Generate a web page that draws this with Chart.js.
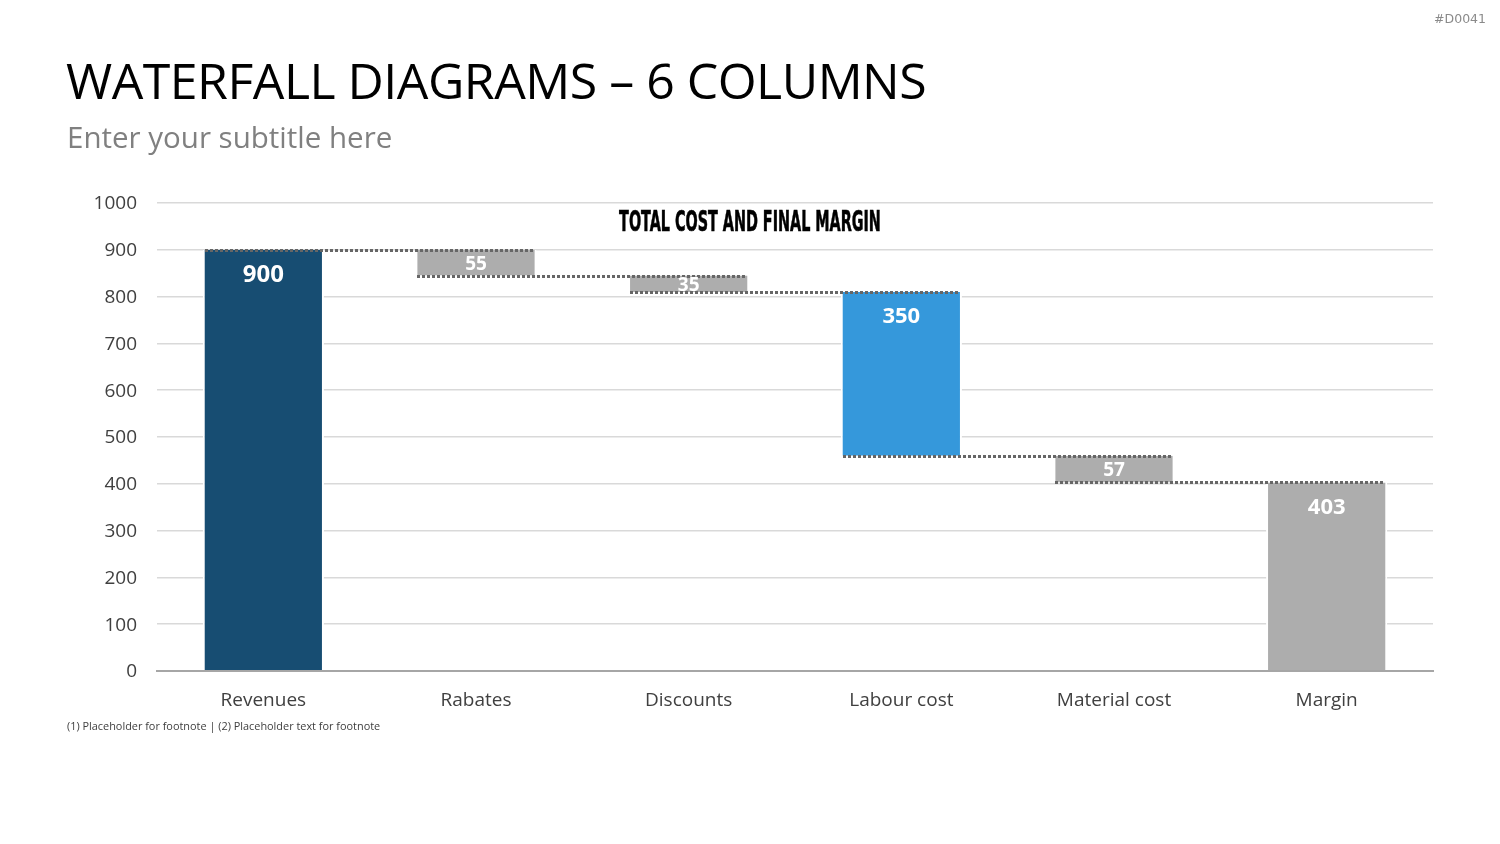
<!DOCTYPE html>
<html>
<head>
<meta charset="utf-8">
<script src="https://cdn.jsdelivr.net/npm/chart.js@4.4.1/dist/chart.umd.min.js"></script>
<style>
  html, body { margin:0; padding:0; background:#fff; }
  body { width:1500px; height:844px; position:relative; overflow:hidden; font-family:"Open Sans", sans-serif; }
  #tag { position:absolute; right:14px; top:11px; font-family:"DejaVu Sans", sans-serif; font-size:12.5px; color:#8a8a8a; }
  #title { position:absolute; left:66px; top:46px; font-size:50px; color:#000; font-weight:400; white-space:nowrap; letter-spacing:-0.5px; }
  #subtitle { position:absolute; left:67px; top:116px; font-size:29.5px; color:#808080; white-space:nowrap; }
  #ctitle { position:absolute; left:750px; top:205px; font-family:"Liberation Sans Narrow","DejaVu Sans Condensed",sans-serif; font-weight:700; font-size:28px; color:#000; white-space:nowrap; transform:translateX(-50%) scaleX(0.57); transform-origin:center; -webkit-text-stroke:0.6px #000; }
  #foot { position:absolute; left:67px; top:718px; font-size:10.9px; color:#404040; white-space:nowrap; }
  #wrap { position:absolute; left:0; top:0; width:1500px; height:844px; }
</style>
</head>
<body>
<div id="wrap"><canvas id="c" width="1500" height="844"></canvas></div>
<div id="tag">#D0041</div>
<div id="title">WATERFALL DIAGRAMS – 6 COLUMNS</div>
<div id="subtitle">Enter your subtitle here</div>
<div id="ctitle">TOTAL COST AND FINAL MARGIN</div>
<div id="foot">(1) Placeholder for footnote | (2) Placeholder text for footnote</div>
<script>
const categories = ["Revenues", "Rabates", "Discounts", "Labour cost", "Material cost", "Margin"];
const steps = [900, -55, -35, -350, -57, 403];   // signed changes; first and last are totals
const isTotal = [true, false, false, false, false, true];
const yTicks = [0, 100, 200, 300, 400, 500, 600, 700, 800, 900, 1000];
const barColors = ["#174D72", "#ADADAD", "#ADADAD", "#3598DB", "#ADADAD", "#ADADAD"];
const labelSizes = [24, 19, 19, 22, 19, 22];

// build floating ranges from steps
const ranges = [];
let running = 0;
steps.forEach((v, i) => {
  if (isTotal[i]) { ranges.push([0, Math.abs(v)]); running = Math.abs(v); }
  else { const next = running + v; ranges.push([Math.min(running, next), Math.max(running, next)]); running = next; }
});
// connector levels: value where bar i ends
const connectorLevels = [];
running = 0;
steps.forEach((v, i) => {
  if (isTotal[i]) running = Math.abs(v); else running = running + v;
  connectorLevels.push(running);
});

const waterfallPlugin = {
  id: 'waterfall',
  afterDatasetsDraw(chart) {
    const ctx = chart.ctx;
    const meta = chart.getDatasetMeta(0);
    const y = chart.scales.y;
    // connectors
    ctx.save();
    ctx.strokeStyle = '#666666';
    ctx.lineWidth = 3;
    ctx.setLineDash([3, 2]);
    for (let i = 0; i < meta.data.length - 1; i++) {
      const a = meta.data[i], b = meta.data[i + 1];
      const inner = 2;
      const x1 = Math.round(a.x - a.width / 2 + inner);
      const x2 = Math.round(b.x + b.width / 2 - inner);
      const py = Math.round(y.getPixelForValue(connectorLevels[i])) + 0.5;
      ctx.beginPath();
      ctx.moveTo(x1, py);
      ctx.lineTo(x2, py);
      ctx.stroke();
    }
    ctx.restore();
    // labels
    ctx.save();
    ctx.fillStyle = '#ffffff';
    ctx.textAlign = 'center';
    ctx.textBaseline = 'middle';
    meta.data.forEach((bar, i) => {
      const top = y.getPixelForValue(ranges[i][1]);
      const bot = y.getPixelForValue(ranges[i][0]);
      const h = bot - top;
      const ly = top + Math.min(h / 2, 23.5);
      ctx.font = 'bold ' + labelSizes[i] + 'px "Open Sans", sans-serif';
      ctx.fillText(String(Math.abs(steps[i])), bar.x, ly + 1.5);
    });
    ctx.restore();
  }
};

new Chart(document.getElementById('c'), {
  type: 'bar',
  data: {
    labels: categories,
    datasets: [{
      data: ranges,
      backgroundColor: barColors,
      borderColor: '#ffffff',
      borderWidth: { left: 2, right: 2, top: 0, bottom: 0 },
      borderSkipped: false,
      categoryPercentage: 1,
      barPercentage: 0.57
    }]
  },
  options: {
    responsive: false,
    animation: false,
    layout: { padding: { left: 67, right: 67, top: 203, bottom: 113 } },
    plugins: { legend: { display: false }, tooltip: { enabled: false }, title: { display: false } },
    scales: {
      x: {
        grid: { display: false, drawTicks: false },
        border: { display: true, color: '#A6A6A6', width: 2 },
        ticks: { color: '#404040', font: { family: '"Open Sans", sans-serif', size: 19 }, padding: 18 },
        afterFit(s) { s.height = 60; }
      },
      y: {
        min: 0, max: 1000,
        afterBuildTicks(s) { s.ticks = yTicks.map(v => ({ value: v })); },
        grid: { color: (c) => c.tick && c.tick.value === 0 ? '#A6A6A6' : '#D9D9D9', lineWidth: (c) => c.tick && c.tick.value === 0 ? 2 : 1.5, drawTicks: false },
        border: { display: false },
        ticks: { color: '#404040', font: { family: '"Open Sans", sans-serif', size: 19 }, padding: 20, labelOffset: 1, callback: (v) => String(v) },
        afterFit(s) { s.width = 90; }
      }
    }
  },
  plugins: [waterfallPlugin]
});
</script>
</body>
</html>
